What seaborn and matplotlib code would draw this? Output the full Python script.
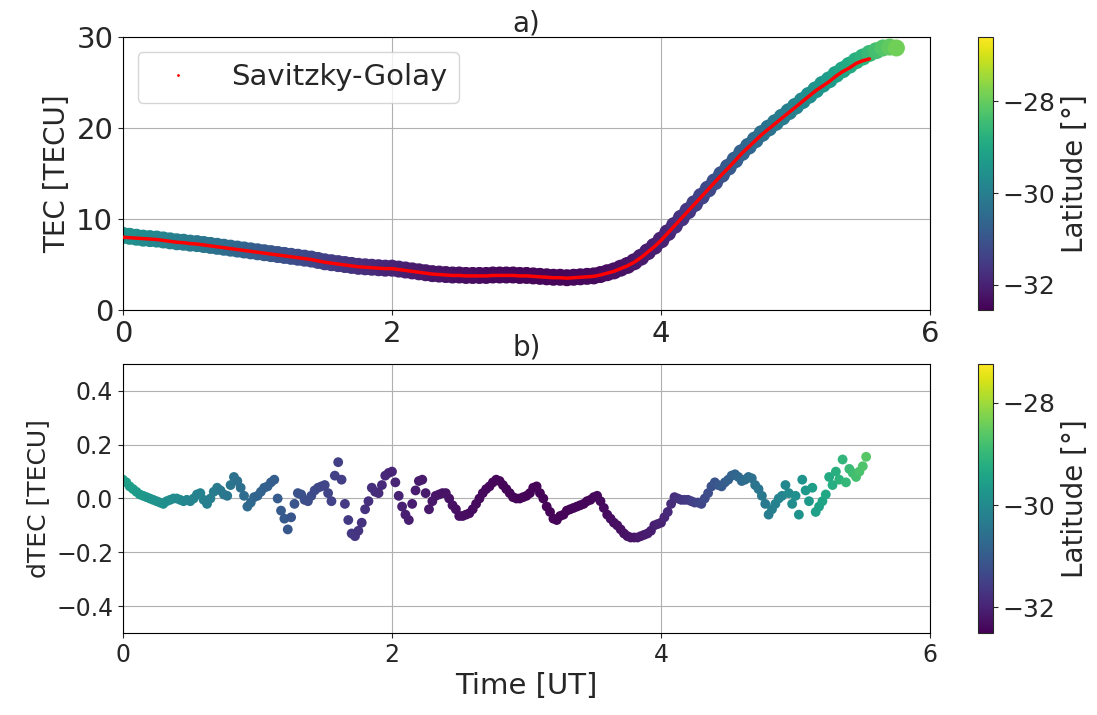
import numpy as np
import pandas as pd
import matplotlib
matplotlib.use("Agg")
import matplotlib.pyplot as plt
import matplotlib.cm as cm
from matplotlib.colors import Normalize
from matplotlib.lines import Line2D
import seaborn as sns

# ---------------- data ----------------
T_STEP_FINE = 0.025   # sampling of latitude / dTEC
T_STEP_TEC = 0.05     # sampling of TEC / SG curve

latitude = [
    -29.50, -29.53, -29.56, -29.59, -29.62, -29.65, -29.68, -29.71, -29.74, -29.77,
    -29.80, -29.83, -29.86, -29.89, -29.92, -29.95, -29.98, -30.01, -30.04, -30.07,
    -30.10, -30.13, -30.16, -30.19, -30.22, -30.25, -30.28, -30.31, -30.34, -30.37,
    -30.40, -30.44, -30.48, -30.52, -30.56, -30.60, -30.64, -30.68, -30.72, -30.76,
    -30.80, -30.83, -30.86, -30.89, -30.92, -30.95, -30.98, -31.01, -31.04, -31.07,
    -31.10, -31.13, -31.16, -31.19, -31.22, -31.25, -31.28, -31.31, -31.34, -31.37,
    -31.40, -31.43, -31.46, -31.49, -31.52, -31.55, -31.58, -31.61, -31.64, -31.67,
    -31.70, -31.72, -31.75, -31.77, -31.80, -31.82, -31.85, -31.87, -31.90, -31.92,
    -31.95, -31.97, -31.99, -32.01, -32.03, -32.05, -32.07, -32.09, -32.11, -32.13,
    -32.15, -32.16, -32.18, -32.19, -32.21, -32.22, -32.24, -32.25, -32.27, -32.28,
    -32.30, -32.31, -32.32, -32.33, -32.34, -32.35, -32.36, -32.37, -32.38, -32.39,
    -32.40, -32.40, -32.41, -32.41, -32.42, -32.42, -32.43, -32.43, -32.44, -32.44,
    -32.45, -32.45, -32.45, -32.45, -32.45, -32.45, -32.45, -32.45, -32.45, -32.45,
    -32.45, -32.44, -32.44, -32.43, -32.43, -32.42, -32.42, -32.41, -32.41, -32.40,
    -32.40, -32.38, -32.37, -32.35, -32.34, -32.32, -32.31, -32.29, -32.28, -32.26,
    -32.25, -32.22, -32.20, -32.17, -32.15, -32.12, -32.10, -32.07, -32.05, -32.02,
    -32.00, -31.95, -31.90, -31.85, -31.80, -31.75, -31.70, -31.65, -31.60, -31.55,
    -31.50, -31.44, -31.38, -31.32, -31.26, -31.20, -31.14, -31.08, -31.02, -30.96,
    -30.90, -30.85, -30.80, -30.75, -30.70, -30.65, -30.60, -30.55, -30.50, -30.45,
    -30.40, -30.35, -30.30, -30.25, -30.20, -30.15, -30.10, -30.05, -30.00, -29.95,
    -29.90, -29.84, -29.78, -29.72, -29.66, -29.60, -29.54, -29.48, -29.42, -29.36,
    -29.30, -29.24, -29.18, -29.12, -29.06, -29.00, -28.94, -28.88, -28.82, -28.76,
    -28.70, -28.62, -28.54, -28.46, -28.38, -28.30, -28.22, -28.14, -28.06, -27.98,
    -27.90,
]

dtec = [
    0.07, 0.06, 0.045, 0.035, 0.025, 0.015, 0.01, 0.005, 0.0, -0.005,
    -0.01, -0.015, -0.02, -0.01, -0.005, 0.0, 0.0, -0.005, -0.01, -0.005,
    -0.01, 0.0, 0.015, 0.02, -0.005, -0.02, 0.0, 0.025, 0.04, 0.03,
    0.015, 0.01, 0.05, 0.08, 0.065, 0.04, 0.01, -0.03, -0.015, 0.005,
    0.01, 0.025, 0.04, 0.045, 0.06, 0.07, 0.0, -0.045, -0.075, -0.115,
    -0.07, -0.02, 0.02, 0.015, -0.005, -0.01, 0.01, 0.03, 0.04, 0.045,
    0.05, 0.02, -0.01, 0.085, 0.135, 0.07, -0.02, -0.08, -0.13, -0.14,
    -0.12, -0.09, -0.04, -0.01, 0.04, 0.025, 0.02, 0.05, 0.085, 0.095,
    0.10, 0.06, 0.01, -0.03, -0.06, -0.08, -0.02, 0.03, 0.065, 0.07,
    0.02, -0.04, -0.01, 0.01, 0.015, 0.02, 0.02, 0.0, -0.025, -0.04,
    -0.065, -0.065, -0.06, -0.055, -0.04, -0.02, 0.0, 0.02, 0.035, 0.045,
    0.06, 0.07, 0.065, 0.05, 0.035, 0.02, 0.005, 0.0, 0.0, 0.005,
    0.01, 0.02, 0.04, 0.045, 0.02, 0.0, -0.03, -0.05, -0.075, -0.08,
    -0.065, -0.06, -0.045, -0.04, -0.035, -0.03, -0.025, -0.02, -0.01, -0.005,
    0.005, 0.01, -0.01, -0.035, -0.06, -0.075, -0.09, -0.10, -0.115, -0.13,
    -0.14, -0.145, -0.145, -0.145, -0.14, -0.135, -0.13, -0.12, -0.10, -0.095,
    -0.09, -0.07, -0.05, -0.02, 0.005, 0.0, -0.005, -0.005, -0.005, -0.01,
    -0.015, -0.015, -0.02, 0.0, 0.02, 0.045, 0.06, 0.05, 0.045, 0.06,
    0.07, 0.085, 0.09, 0.08, 0.065, 0.07, 0.08, 0.075, 0.05, 0.035,
    0.01, -0.02, -0.06, -0.04, -0.02, 0.0, 0.01, 0.05, 0.02, -0.02,
    0.01, -0.06, 0.07, 0.03, -0.01, 0.04, -0.05, -0.03, -0.01, 0.015,
    0.08, 0.05, 0.10, 0.07, 0.145, 0.06, 0.11, 0.095, 0.08, 0.10,
    0.12, 0.155,
]

tec = [
    8.2, 8.1, 8.0, 7.9, 7.85, 7.8, 7.7, 7.6, 7.5, 7.45,
    7.35, 7.3, 7.2, 7.1, 7.0, 6.9, 6.8, 6.7, 6.6, 6.5,
    6.4, 6.3, 6.2, 6.1, 6.0, 5.9, 5.8, 5.7, 5.6, 5.45,
    5.3, 5.2, 5.1, 5.0, 4.9, 4.8, 4.75, 4.7, 4.65, 4.6,
    4.6, 4.5, 4.4, 4.3, 4.2, 4.1, 4.0, 3.95, 3.9, 3.85,
    3.85, 3.8, 3.8, 3.8, 3.8, 3.85, 3.85, 3.85, 3.85, 3.8,
    3.8, 3.75, 3.7, 3.65, 3.6, 3.6, 3.55, 3.6, 3.65, 3.7,
    3.75, 3.9, 4.1, 4.3, 4.6, 4.9, 5.3, 5.8, 6.4, 7.0,
    7.7, 8.5, 9.3, 10.1, 10.9, 11.7, 12.5, 13.3, 14.1, 14.9,
    15.7, 16.5, 17.3, 18.0, 18.7, 19.4, 20.0, 20.6, 21.2, 21.8,
    22.4, 23.0, 23.6, 24.2, 24.8, 25.3, 25.9, 26.4, 26.9, 27.4,
    27.8, 28.2, 28.5, 28.8, 28.9, 28.8,
]

savgol = [
    8.0, 7.95, 7.9, 7.85, 7.8, 7.75, 7.65, 7.55, 7.45, 7.4,
    7.3, 7.25, 7.15, 7.05, 6.95, 6.85, 6.75, 6.65, 6.55, 6.45,
    6.35, 6.25, 6.15, 6.05, 5.95, 5.85, 5.75, 5.65, 5.55, 5.4,
    5.25, 5.15, 5.05, 4.95, 4.85, 4.75, 4.7, 4.65, 4.6, 4.55,
    4.55, 4.45, 4.35, 4.25, 4.15, 4.05, 3.95, 3.9, 3.85, 3.8,
    3.8, 3.75, 3.75, 3.75, 3.75, 3.8, 3.8, 3.8, 3.8, 3.75,
    3.75, 3.7, 3.65, 3.6, 3.55, 3.55, 3.5, 3.55, 3.6, 3.65,
    3.7, 3.85, 4.05, 4.25, 4.55, 4.85, 5.25, 5.75, 6.35, 6.95,
    7.65, 8.45, 9.25, 10.05, 10.85, 11.65, 12.45, 13.25, 14.05, 14.85,
    15.6, 16.4, 17.2, 17.9, 18.6, 19.3, 19.9, 20.5, 21.1, 21.7,
    22.3, 22.9, 23.5, 24.1, 24.6, 25.1, 25.7, 26.2, 26.6, 27.1,
    27.4, 27.6,
]

LAT_RANGE_TOP = (-32.55, -26.6)
LAT_RANGE_BOT = (-32.5, -27.24)

t_fine = np.arange(len(latitude)) * T_STEP_FINE
t_tec = np.arange(len(tec)) * T_STEP_TEC
t_sg = np.arange(len(savgol)) * T_STEP_TEC
lat_tec = np.array(latitude)[::2][: len(tec)]

df_tec = pd.DataFrame({"t": t_tec, "tec": tec, "lat": lat_tec})
df_sg = pd.DataFrame({"t": t_sg, "sg": savgol})
df_d = pd.DataFrame({"t": t_fine[: len(dtec)], "dtec": dtec,
                     "lat": np.array(latitude)[: len(dtec)]})

# ---------------- figure ----------------
sns.set_style("ticks")
plt.rcParams["font.family"] = ["DejaVu Sans"]

fig = plt.figure(figsize=(10.97, 7.15), dpi=100)
ax1 = fig.add_axes([0.1121, 0.5664, 0.7357, 0.3818])
cax1 = fig.add_axes([0.8915, 0.5664, 0.0137, 0.3818])
ax2 = fig.add_axes([0.1121, 0.1147, 0.7357, 0.3762])
cax2 = fig.add_axes([0.8915, 0.1147, 0.0137, 0.3762])
ax1.set_zorder(1)
ax2.set_zorder(2)
ax2.patch.set_facecolor("white")
ax2.patch.set_alpha(1.0)

norm1 = Normalize(*LAT_RANGE_TOP)
norm2 = Normalize(*LAT_RANGE_BOT)

# Top panel
sns.scatterplot(data=df_tec, x="t", y="tec", hue="lat", palette="viridis",
                hue_norm=norm1, s=150, linewidth=0, legend=False, ax=ax1, zorder=2)
sns.lineplot(data=df_sg, x="t", y="sg", color="red", lw=2.5, ax=ax1, zorder=3)
ax1.set_xlim(0, 6)
ax1.set_ylim(0, 30)
ax1.set_xticks([0, 2, 4, 6])
ax1.set_yticks([0, 10, 20, 30])
ax1.tick_params(labelsize=21)
ax1.set_xlabel("Time", fontsize=21, labelpad=13)
ax1.set_ylabel("TEC [TECU]", fontsize=20)
ax1.set_title("a)", fontsize=20, pad=4)
ax1.grid(True, color="#b0b0b0", lw=0.8)
ax1.set_axisbelow(True)
handle = Line2D([], [], ls="none", marker=".", ms=2, color="red")
ax1.legend(handles=[handle], labels=["Savitzky-Golay"], loc="upper left",
           fontsize=21, frameon=True, framealpha=0.8)

cb1 = fig.colorbar(cm.ScalarMappable(norm=norm1, cmap="viridis"), cax=cax1)
cb1.set_ticks([-32, -30, -28])
cb1.ax.tick_params(labelsize=18)
cb1.set_label("Latitude [°]", fontsize=20)

# Bottom panel
sns.scatterplot(data=df_d, x="t", y="dtec", hue="lat", palette="viridis",
                hue_norm=norm2, s=50, linewidth=0, legend=False, ax=ax2, zorder=2)
ax2.set_xlim(0, 6)
ax2.set_ylim(-0.5, 0.5)
ax2.set_xticks([0, 2, 4, 6])
ax2.set_yticks([-0.4, -0.2, 0.0, 0.2, 0.4])
ax2.tick_params(labelsize=17)
ax2.set_xlabel("Time [UT]", fontsize=21)
ax2.set_ylabel("dTEC [TECU]", fontsize=18)
ax2.set_title("b)", fontsize=20, pad=6)
ax2.grid(True, color="#b0b0b0", lw=0.8)
ax2.set_axisbelow(True)

cb2 = fig.colorbar(cm.ScalarMappable(norm=norm2, cmap="viridis"), cax=cax2)
cb2.set_ticks([-32, -30, -28])
cb2.ax.tick_params(labelsize=18)
cb2.set_label("Latitude [°]", fontsize=20)

for ax in (ax1, ax2):
    for sp in ax.spines.values():
        sp.set_color("black")

fig.savefig("out.png", dpi=100)
